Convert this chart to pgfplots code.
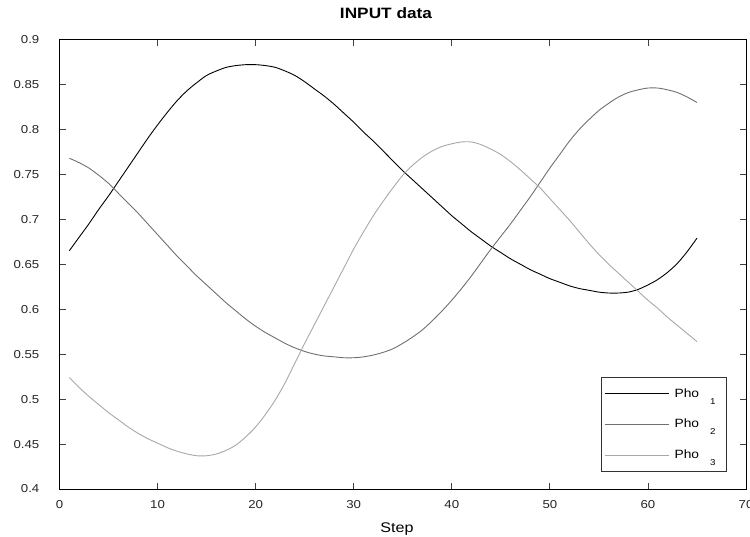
\documentclass[border=0pt]{standalone}
\usepackage{fontspec}
\setmainfont[FakeStretch=1.15]{Liberation Sans}
\usepackage{pgfplots}
\usepackage{pgfplotstable}
\pgfplotsset{compat=1.18}

\definecolor{phoA}{RGB}{0,0,0}
\definecolor{phoB}{RGB}{112,112,112}
\definecolor{phoC}{RGB}{168,168,168}

% input signals, one sample per step
\pgfplotstableread{
step pho1  pho2  pho3
1    0.665 0.768 0.524
2    0.680 0.763 0.513
3    0.695 0.757 0.503
4    0.711 0.749 0.494
5    0.726 0.740 0.485
6    0.742 0.729 0.477
7    0.758 0.718 0.469
8    0.774 0.707 0.462
9    0.790 0.695 0.456
10   0.805 0.683 0.451
11   0.819 0.671 0.446
12   0.832 0.659 0.442
13   0.843 0.648 0.439
14   0.852 0.637 0.437
15   0.860 0.627 0.437
16   0.865 0.617 0.439
17   0.869 0.607 0.443
18   0.871 0.598 0.449
19   0.872 0.589 0.458
20   0.872 0.581 0.469
21   0.871 0.574 0.483
22   0.869 0.568 0.499
23   0.865 0.562 0.518
24   0.860 0.557 0.540
25   0.853 0.553 0.562
26   0.845 0.550 0.583
27   0.837 0.548 0.604
28   0.828 0.547 0.625
29   0.818 0.546 0.646
30   0.808 0.546 0.667
31   0.797 0.547 0.686
32   0.787 0.549 0.704
33   0.776 0.552 0.720
34   0.765 0.556 0.735
35   0.754 0.562 0.749
36   0.744 0.569 0.760
37   0.734 0.577 0.769
38   0.724 0.587 0.776
39   0.714 0.598 0.781
40   0.704 0.610 0.784
41   0.695 0.623 0.786
42   0.686 0.637 0.786
43   0.678 0.652 0.783
44   0.670 0.667 0.778
45   0.663 0.681 0.772
46   0.656 0.695 0.764
47   0.650 0.710 0.755
48   0.644 0.725 0.745
49   0.639 0.741 0.735
50   0.634 0.757 0.723
51   0.630 0.772 0.711
52   0.626 0.787 0.699
53   0.623 0.800 0.686
54   0.621 0.811 0.673
55   0.619 0.821 0.661
56   0.618 0.829 0.650
57   0.618 0.836 0.640
58   0.619 0.841 0.630
59   0.622 0.844 0.620
60   0.627 0.846 0.610
61   0.633 0.846 0.601
62   0.641 0.844 0.591
63   0.651 0.841 0.582
64   0.664 0.836 0.573
65   0.679 0.830 0.564
}\phodata

% legend label with a lowered index
\newcommand{\pho}[1]{Pho\hspace{11pt}\raisebox{-7pt}{\fontsize{8.5}{9}\selectfont #1}\rule{6pt}{0pt}}

\begin{document}
\begin{tikzpicture}[x=1pt,y=1pt]
\begin{axis}[
  at={(0pt,0pt)}, anchor=south west,
  scale only axis, width=686.5pt, height=449.5pt,
  xmin=0, xmax=70, ymin=0.4, ymax=0.9,
  xtick={0,10,20,30,40,50,60,70},
  ytick={0.4,0.45,0.5,0.55,0.6,0.65,0.7,0.75,0.8,0.85,0.9},
  yticklabels={0.4,0.45,0.5,0.55,0.6,0.65,0.7,0.75,0.8,0.85,0.9},
  /pgf/number format/assume math mode=true,
  tick align=inside,
  major tick length=6.5pt,
  tick style={black!75, line width=0.8pt},
  axis line style={black, line width=0.8pt},
  ticklabel style={font=\fontsize{11.5}{13}\selectfont, text=black!85},
  yticklabel style={inner sep=0pt, xshift=-20pt},
  xticklabel style={inner sep=0pt, yshift=-11pt},
  title={\bfseries INPUT data},
  title style={at={(0.4756,1)}, anchor=base, yshift=15.5pt,
    font=\fontsize{15}{17}\selectfont, inner sep=0pt},
  xlabel={Step},
  xlabel style={at={(0.4916,0)}, anchor=base, yshift=-43pt,
    font=\fontsize{14}{16}\selectfont, inner sep=0pt},
  legend style={at={(0.9723,0.0378)}, anchor=south east,
    draw=black!80, line width=0.8pt, fill=white,
    font=\fontsize{12}{14}\selectfont,
    inner xsep=3pt, inner ysep=9.5pt, row sep=16.5pt,
    cells={anchor=west},
    /tikz/every odd column/.append style={column sep=3pt}},
  legend image code/.code={\draw[#1] (0pt,0pt) -- (64pt,0pt);},
]
\addplot[phoA, line width=0.9pt, smooth] table[x=step, y=pho1] {\phodata};
\addlegendentry{\pho{1}}
\addplot[phoB, line width=0.9pt, smooth] table[x=step, y=pho2] {\phodata};
\addlegendentry{\pho{2}}
\addplot[phoC, line width=0.9pt, smooth] table[x=step, y=pho3] {\phodata};
\addlegendentry{\pho{3}}
\end{axis}
\pgfresetboundingbox
\path[use as bounding box] (-59.5pt,-47pt) rectangle (690.5pt,489pt);
\end{tikzpicture}
\end{document}
